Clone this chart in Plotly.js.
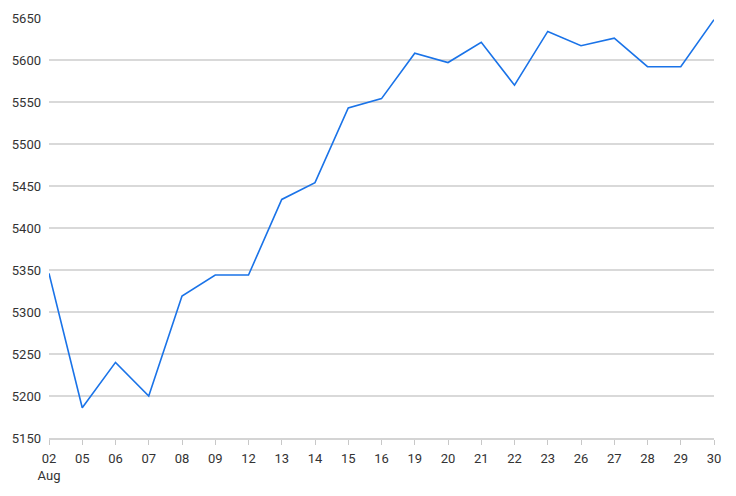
<!DOCTYPE html>
<html>
<head>
<meta charset="utf-8">
<script src="https://cdn.plot.ly/plotly-3.0.1.min.js"></script>
<style>
  html, body { margin: 0; padding: 0; background: #fff; }
  #chart { width: 736px; height: 496px; }
</style>
</head>
<body>
<div id="chart"></div>
<script>
// trading days, August
const days = ["02", "05", "06", "07", "08", "09", "12", "13", "14", "15", "16",
  "19", "20", "21", "22", "23", "26", "27", "28", "29", "30"];
const closes = [5346, 5186, 5240, 5200, 5319, 5344, 5344, 5434, 5454, 5543, 5554,
  5608, 5597, 5621, 5570, 5634, 5617, 5626, 5592, 5592, 5648];
const dayLabels = days.map((d, i) => i === 0 ? d + "<br>Aug" : d);
const yTicks = [5150, 5200, 5250, 5300, 5350, 5400, 5450, 5500, 5550, 5600, 5650];

var trace = {
  x: days,
  y: closes,
  type: 'scatter',
  mode: 'lines',
  line: { color: '#1a73e8', width: 1.6 },
  hoverinfo: 'x+y'
};

var layout = {
  width: 736,
  height: 496,
  margin: { l: 49, r: 22, t: 18, b: 58 },
  paper_bgcolor: '#fff',
  plot_bgcolor: '#fff',
  showlegend: false,
  font: { family: 'Roboto, sans-serif', size: 13, color: '#333' },
  xaxis: {
    type: 'category',
    range: [0, days.length - 1],
    tickvals: days,
    ticktext: dayLabels,
    showgrid: false,
    zeroline: false,
    showline: true,
    linecolor: '#d4d4d4',
    linewidth: 1.5,
    ticks: 'outside',
    ticklen: 5,
    tickwidth: 1,
    tickcolor: '#c8c8c8',
    ticklabelstandoff: 3,
    tickfont: { size: 13, color: '#333' }
  },
  yaxis: {
    range: [5150, 5650],
    tickvals: yTicks,
    showgrid: true,
    gridcolor: '#d9d9d9',
    gridwidth: 1.5,
    zeroline: false,
    showline: false,
    ticks: '',
    ticklabelstandoff: 7,
    tickfont: { size: 13, color: '#333' }
  }
};

Plotly.newPlot('chart', [trace], layout, { displayModeBar: false, staticPlot: true });
</script>
</body>
</html>
